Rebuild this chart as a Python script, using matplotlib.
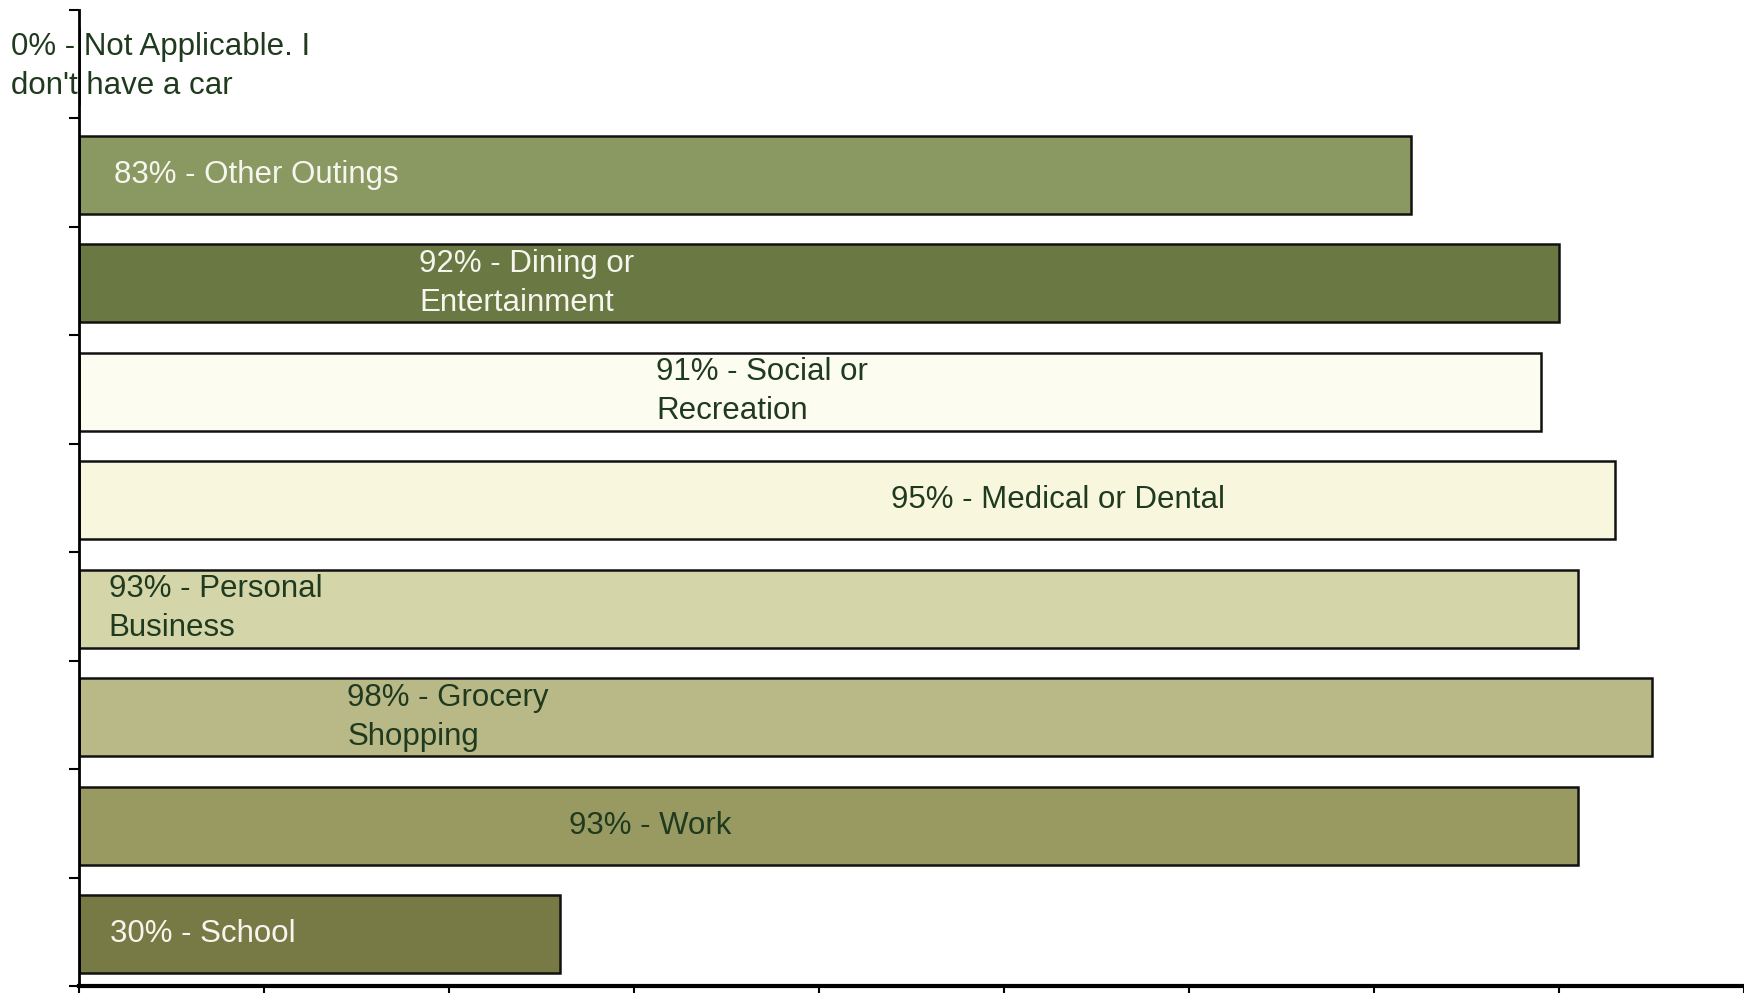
import matplotlib

matplotlib.use("Agg")
import matplotlib.pyplot as plt
import numpy as np

# category labels, top to bottom, with the percentage shown in each label
labels = [
    "0% - Not Applicable. I\ndon't have a car",
    "83% - Other Outings",
    "92% - Dining or\nEntertainment",
    "91% - Social or\nRecreation",
    "95% - Medical or Dental",
    "93% - Personal\nBusiness",
    "98% - Grocery\nShopping",
    "93% - Work",
    "30% - School",
]
# respondent counts (bar lengths)
counts = [0, 72, 80, 79, 83, 81, 85, 81, 26]
colors = ["#ffffff", "#8a9862", "#6a7944", "#fdfcf0", "#f8f7de",
          "#d4d6aa", "#b9b988", "#989a62", "#787a45"]
text_colors = ["#1f3a1f", "#f6f6ee", "#f6f6ee", "#1f3a1f", "#1f3a1f",
               "#1f3a1f", "#1f3a1f", "#1f3a1f", "#f6f6ee"]
# where each label starts, in count units
label_x = [-3.7, 1.9, 18.4, 31.2, 43.9, 1.6, 14.5, 26.5, 1.7]

fig = plt.figure(figsize=(17.44, 9.93), dpi=100)
ax = fig.add_axes([0.0453, 0.0068, 0.9547, 0.9832])

y = np.arange(len(labels))
ax.barh(y + 0.02, counts, height=0.72, color=colors, edgecolor="#111111", linewidth=1.8)

for yi, text, tx, tc in zip(y, labels, label_x, text_colors):
    ax.text(tx, yi + 0.02, text, ha="left", va="center", color=tc, fontsize=22.5,
            family="Liberation Sans", linespacing=1.4, clip_on=False)

ax.set_xlim(0, 90)
ax.set_ylim(len(labels) - 0.5, -0.5)
ax.set_yticks(np.arange(len(labels) + 1) - 0.5)
ax.set_yticklabels([])
ax.set_xticks(np.arange(0, 91, 10))
ax.set_xticklabels([])
ax.tick_params(axis="y", direction="out", length=7, width=1.5)
ax.tick_params(axis="x", direction="out", length=12, width=1.5)
ax.spines["top"].set_visible(False)
ax.spines["right"].set_visible(False)
ax.spines["left"].set_linewidth(2)
ax.spines["bottom"].set_linewidth(3)

fig.savefig("out.png", dpi=100)
